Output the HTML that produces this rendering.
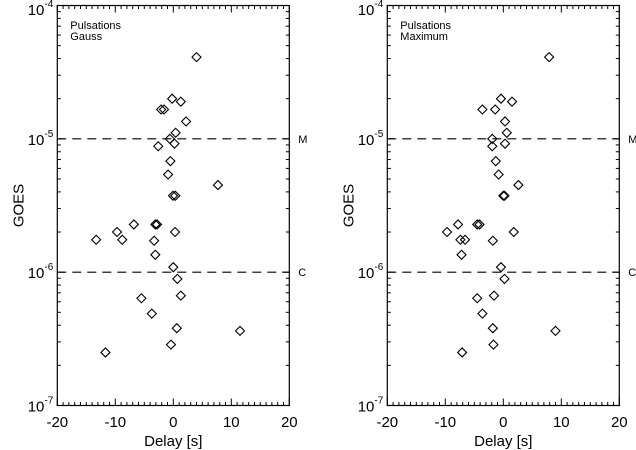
<!DOCTYPE html>
<html><head><meta charset="utf-8">
<style>
html,body{margin:0;padding:0;background:#fff;}
svg{display:block;font-family:"Liberation Sans",sans-serif;}
</style></head>
<body>
<svg id="chart" width="636" height="450" viewBox="0 0 636 450" xmlns="http://www.w3.org/2000/svg"></svg>
<script>
// Data (delay in s, GOES flux in W/m^2)
const gaussDelay = [4.0,-0.2,1.3,-2.1,-1.6,2.2,0.4,-0.6,0.2,-2.6,-0.5,-0.9,7.7,-0.05,0.35,-6.8,-3.1,-2.8,-9.7,0.3,-13.3,-8.8,-3.3,-3.1,0,0.7,-5.5,1.3,-3.7,0.6,11.5,-0.4,-11.7];
const gaussFlux = [4.1e-5,2.0e-5,1.9e-5,1.66e-5,1.66e-5,1.35e-5,1.11e-5,1.0e-5,9.2e-6,8.8e-6,6.8e-6,5.4e-6,4.5e-6,3.74e-6,3.74e-6,2.28e-6,2.28e-6,2.28e-6,2.0e-6,2.0e-6,1.75e-6,1.75e-6,1.72e-6,1.35e-6,1.09e-6,8.9e-7,6.37e-7,6.67e-7,4.89e-7,3.8e-7,3.63e-7,2.86e-7,2.5e-7];
const maxDelay = [7.9,-0.4,1.5,-3.6,-1.4,0.3,0.6,-1.9,0.3,-1.9,-1.3,-0.8,2.6,0,0.2,-7.8,-4.5,-4.1,-9.7,1.8,-7.4,-6.6,-1.8,-7.2,-0.4,0.2,-4.5,-1.6,-3.6,-1.8,9.0,-1.7,-7.1];
const maxFlux = [4.1e-5,2.0e-5,1.9e-5,1.66e-5,1.66e-5,1.35e-5,1.11e-5,1.0e-5,9.2e-6,8.8e-6,6.8e-6,5.4e-6,4.5e-6,3.74e-6,3.74e-6,2.28e-6,2.28e-6,2.28e-6,2.0e-6,2.0e-6,1.75e-6,1.75e-6,1.72e-6,1.35e-6,1.09e-6,8.9e-7,6.37e-7,6.67e-7,4.89e-7,3.8e-7,3.63e-7,2.86e-7,2.5e-7];
const xTicks = [-20,-10,0,10,20];
const yExps = [-4,-5,-6,-7];
const panelNames = ["Gauss","Maximum"];

const NS = "http://www.w3.org/2000/svg";
const svg = document.getElementById('chart');
function mk(tag, attrs, parent){ const e=document.createElementNS(NS,tag); for(const k in attrs) e.setAttribute(k,attrs[k]); (parent||svg).appendChild(e); return e; }

const plotTop=5.5, plotBot=405.5;
function yScale(v){ return plotTop + (-4 - Math.log10(v)) * (plotBot-plotTop)/3; }

function panel(x0, x1, delays, fluxes, label){
  const g = mk('g',{});
  
  
  const xs = v => x0 + (v+20)*(x1-x0)/40;
  const fr = mk('rect',{x:x0,y:plotTop,width:x1-x0,height:plotBot-plotTop,fill:'none',stroke:'#000','stroke-width':1.2},g);
  
  
  for(let v=-20; v<=20; v++){
    const len = (v%10===0)?7:3.5;
    const x = xs(v);
    mk('line',{x1:x,x2:x,y1:plotBot,y2:plotBot-len,stroke:'#000','stroke-width':1},g);
    mk('line',{x1:x,x2:x,y1:plotTop,y2:plotTop+len,stroke:'#000','stroke-width':1},g);
  }
  xTicks.forEach(v=>{
    const t = mk('text',{x:xs(v),y:427,'text-anchor':'middle','font-size':15},g);
    t.textContent = v;
    
    
  });
  for(let e=-7; e<-4; e++){
    for(let m=1; m<=9; m++){
      const y = yScale(m*Math.pow(10,e));
      const len = m===1?7:3.5;
      mk('line',{x1:x0,x2:x0+len,y1:y,y2:y,stroke:'#000','stroke-width':1},g);
      mk('line',{x1:x1,x2:x1-len,y1:y,y2:y,stroke:'#000','stroke-width':1},g);
    }
  }
  yExps.forEach(e=>{
    const by = Math.max(15, yScale(Math.pow(10,e))+6);
    const t = mk('text',{x:x0-4,y:by,'text-anchor':'end','font-size':15},g);
    
    
    t.appendChild(document.createTextNode('10'));
    const s = mk('tspan',{'font-size':10,dy:-8},t);
    s.textContent = String(e);
  });
  [[1e-5,'M'],[1e-6,'C']].forEach(([v,l])=>{
    const y=yScale(v);
    const ln = mk('line',{x1:x0,x2:x1,y1:y,y2:y,stroke:'#000','stroke-width':1.2,'stroke-dasharray':'9,6'},g);
    
    
    const t = mk('text',{x:x1+9,y:y+4,'font-size':11},g);
    t.textContent=l;
    
    
  });
  const t1 = mk('text',{x:x0+13,y:29,'font-size':11},g); t1.textContent='Pulsations';
  
  
  const t2 = mk('text',{x:x0+13,y:40,'font-size':11},g); t2.textContent=label;
  
  
  const xt = mk('text',{x:(x0+x1)/2,y:446,'text-anchor':'middle','font-size':15},g); xt.textContent='Delay [s]';
  
  
  const yt = mk('text',{x:0,y:0,'text-anchor':'middle','font-size':15,transform:`translate(${x0-34},${(plotTop+plotBot)/2}) rotate(-90)`},g); yt.textContent='GOES';
  
  
  const r=4.5;
  delays.forEach((d,i)=>{
    const cx=xs(d), cy=yScale(fluxes[i]);
    const p = mk('polygon',{points:`${cx},${cy-r} ${cx+r},${cy} ${cx},${cy+r} ${cx-r},${cy}`,fill:'none',stroke:'#000','stroke-width':1.1},g);
    
    
  });
}
panel(57.3, 289.3, gaussDelay, gaussFlux, panelNames[0]);
panel(387.3, 619.3, maxDelay, maxFlux, panelNames[1]);
</script>
</body></html>
